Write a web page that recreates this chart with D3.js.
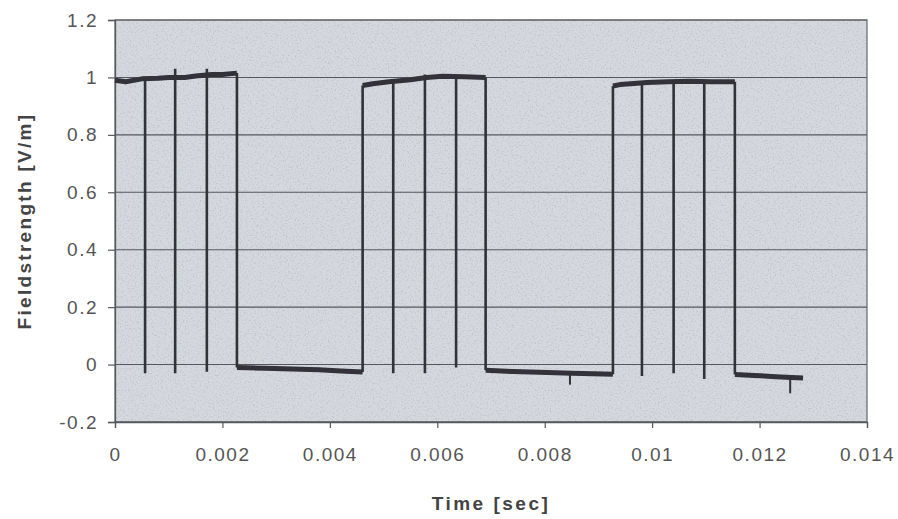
<!DOCTYPE html>
<html>
<head>
<meta charset="utf-8">
<script src="https://cdn.jsdelivr.net/npm/d3@7"></script>
<style>
  html, body { margin: 0; padding: 0; background: #ffffff; }
  svg { display: block; }
  text { font-family: "Liberation Sans", Arial, sans-serif; }
</style>
</head>
<body>
<svg id="chart" width="898" height="519"></svg>
<script>
// Axis ticks
const xTicks = [0, 0.002, 0.004, 0.006, 0.008, 0.01, 0.012, 0.014];
const yTicks = [-0.2, 0, 0.2, 0.4, 0.6, 0.8, 1, 1.2];
const xTickLabels = ["0", "0.002", "0.004", "0.006", "0.008", "0.01", "0.012", "0.014"];
const yTickLabels = ["-0.2", "0", "0.2", "0.4", "0.6", "0.8", "1", "1.2"];

// Plateau levels of the measured field strength [t (s), E (V/m)]
const high1 = [[0, 0.99], [0.0002, 0.985], [0.0005, 0.995], [0.0008, 0.997], [0.001, 1.0], [0.0013, 1.0], [0.0015, 1.005], [0.0018, 1.01], [0.002, 1.01], [0.00227, 1.015]];
const low1  = [[0.00227, -0.01], [0.0028, -0.013], [0.0033, -0.015], [0.0038, -0.018], [0.0042, -0.022], [0.00461, -0.026]];
const high2 = [[0.00461, 0.972], [0.0048, 0.978], [0.0051, 0.985], [0.0055, 0.992], [0.0058, 1.0], [0.0061, 1.004], [0.0065, 1.002], [0.0069, 1.0]];
const low2  = [[0.0069, -0.02], [0.0074, -0.024], [0.0079, -0.027], [0.0085, -0.03], [0.0089, -0.032], [0.00927, -0.034]];
const high3 = [[0.00927, 0.97], [0.0094, 0.975], [0.0096, 0.978], [0.0099, 0.982], [0.0103, 0.985], [0.0107, 0.987], [0.0111, 0.985], [0.01154, 0.985]];
const low3  = [[0.01154, -0.035], [0.0119, -0.038], [0.0123, -0.042], [0.0126, -0.045], [0.01281, -0.047]];

// Isolated negative spikes on the low level: [t (s), base, lowest value]
const spikes = [[0.00847, -0.03, -0.07], [0.01257, -0.044, -0.1]];

// Short dropouts inside each burst: [t (s), lowest value, peak before drop]
const dropouts = [
  [0.00056, -0.03, 1.0], [0.00112, -0.03, 1.03], [0.00171, -0.025, 1.03],
  [0.00518, -0.03, 0.99], [0.00577, -0.03, 1.01], [0.00635, -0.01, 1.005],
  [0.00981, -0.04, 0.985], [0.0104, -0.03, 0.99], [0.01097, -0.05, 0.99]
];

// Edges between plateaus: [t (s), from, to]
const edges = [
  [0.00227, 1.015, -0.01], [0.00461, -0.026, 0.972], [0.0069, 1.0, -0.02],
  [0.00927, -0.034, 0.97], [0.01154, 0.985, -0.035]
];

const svg = d3.select("#chart");
const margin = { left: 115, top: 20, right: 31, bottom: 97 };
const W = 898, H = 519;
const x = d3.scaleLinear().domain([0, 0.014]).range([margin.left, W - margin.right]);
const y = d3.scaleLinear().domain([-0.2, 1.2]).range([H - margin.bottom, margin.top]);

const defs = svg.append("defs");

// Speckle texture: noise clipped to the shape it is applied to
const grain = defs.append("filter").attr("id", "grain")
  .attr("filterUnits", "userSpaceOnUse")
  .attr("x", 0).attr("y", 0).attr("width", W).attr("height", H);
grain.append("feTurbulence").attr("type", "fractalNoise").attr("baseFrequency", 0.6)
  .attr("numOctaves", 3).attr("seed", 7).attr("result", "noise");
grain.append("feColorMatrix").attr("in", "noise").attr("type", "matrix")
  .attr("values", "0 0 0 0 0.5  0 0 0 0 0.52  0 0 0 0 0.56  2.4 0 0 0 -1.18").attr("result", "specks");
grain.append("feComposite").attr("in", "specks").attr("in2", "SourceGraphic").attr("operator", "in");

const soft = defs.append("filter").attr("id", "soft");
soft.append("feGaussianBlur").attr("stdDeviation", 0.45);

const plotX = x(0), plotY = y(1.2);
const plotW = x(0.014) - x(0), plotH = y(-0.2) - y(1.2);

svg.append("rect")
  .attr("x", plotX).attr("y", plotY).attr("width", plotW).attr("height", plotH)
  .attr("fill", "#d5d9de");
svg.append("rect")
  .attr("x", plotX).attr("y", plotY).attr("width", plotW).attr("height", plotH)
  .attr("fill", "#000").attr("filter", "url(#grain)");

// Horizontal gridlines
svg.append("g")
  .selectAll("line")
  .data(yTicks)
  .join("line")
  .attr("x1", x(0)).attr("x2", x(0.014))
  .attr("y1", d => y(d)).attr("y2", d => y(d))
  .attr("stroke", "#55585d").attr("stroke-width", 1.1);

// Plot frame
svg.append("rect")
  .attr("x", plotX).attr("y", plotY).attr("width", plotW).attr("height", plotH)
  .attr("fill", "none").attr("stroke", "#65686d").attr("stroke-width", 1.2);

// Axes
const yAxis = d3.axisLeft(y).tickValues(yTicks).tickSize(7).tickPadding(10)
  .tickFormat((d, i) => yTickLabels[i]);
const gy = svg.append("g").attr("transform", `translate(${x(0)},0)`).call(yAxis);
const xAxis = d3.axisBottom(x).tickValues(xTicks).tickSize(6).tickPadding(20)
  .tickFormat((d, i) => xTickLabels[i]);
const gx = svg.append("g").attr("transform", `translate(0,${y(-0.2)})`).call(xAxis);
[gx, gy].forEach(g => {
  g.select(".domain").attr("stroke", "#55585c").attr("stroke-width", 1.3);
  g.selectAll(".tick line").attr("stroke", "#55585c").attr("stroke-width", 1.2);
  g.selectAll(".tick text").attr("fill", "#555").attr("font-size", 19)
    .attr("letter-spacing", "1.5px")
    .attr("font-family", "'Liberation Sans', Arial, sans-serif");
});

// Axis titles
svg.append("text")
  .attr("x", (x(0) + x(0.014)) / 2).attr("y", 510)
  .attr("text-anchor", "middle").attr("font-size", 19).attr("font-weight", "bold")
  .attr("letter-spacing", "2.5px")
  .attr("fill", "#444").text("Time [sec]");
svg.append("text")
  .attr("transform", `translate(31,${(y(1.2) + y(-0.2)) / 2}) rotate(-90)`)
  .attr("text-anchor", "middle").attr("font-size", 19).attr("font-weight", "bold")
  .attr("letter-spacing", "2.3px")
  .attr("fill", "#444").text("Fieldstrength [V/m]");

// Measured trace
const trace = svg.append("g").attr("filter", "url(#soft)");
const line = d3.line().x(d => x(d[0])).y(d => y(d[1]));
const ink = "#303237";

// Noisy plateaus drawn as a thick band
[high1, high2, high3, low1, low2, low3].forEach(seg => {
  trace.append("path").datum(seg).attr("d", line)
    .attr("fill", "none").attr("stroke", ink).attr("stroke-width", 5).attr("stroke-linejoin", "round");
});

// Switching edges
trace.selectAll("line.edge").data(edges).join("line").attr("class", "edge")
  .attr("x1", d => x(d[0])).attr("x2", d => x(d[0]))
  .attr("y1", d => y(d[1])).attr("y2", d => y(d[2]))
  .attr("stroke", ink).attr("stroke-width", 2.6);

// Dropouts
trace.selectAll("line.drop").data(dropouts).join("line").attr("class", "drop")
  .attr("x1", d => x(d[0])).attr("x2", d => x(d[0]))
  .attr("y1", d => y(d[2])).attr("y2", d => y(d[1]))
  .attr("stroke", ink).attr("stroke-width", 2.6);

// Spikes on the low level
trace.selectAll("line.spike").data(spikes).join("line").attr("class", "spike")
  .attr("x1", d => x(d[0])).attr("x2", d => x(d[0]))
  .attr("y1", d => y(d[1])).attr("y2", d => y(d[2]))
  .attr("stroke", ink).attr("stroke-width", 2);
</script>
</body>
</html>
